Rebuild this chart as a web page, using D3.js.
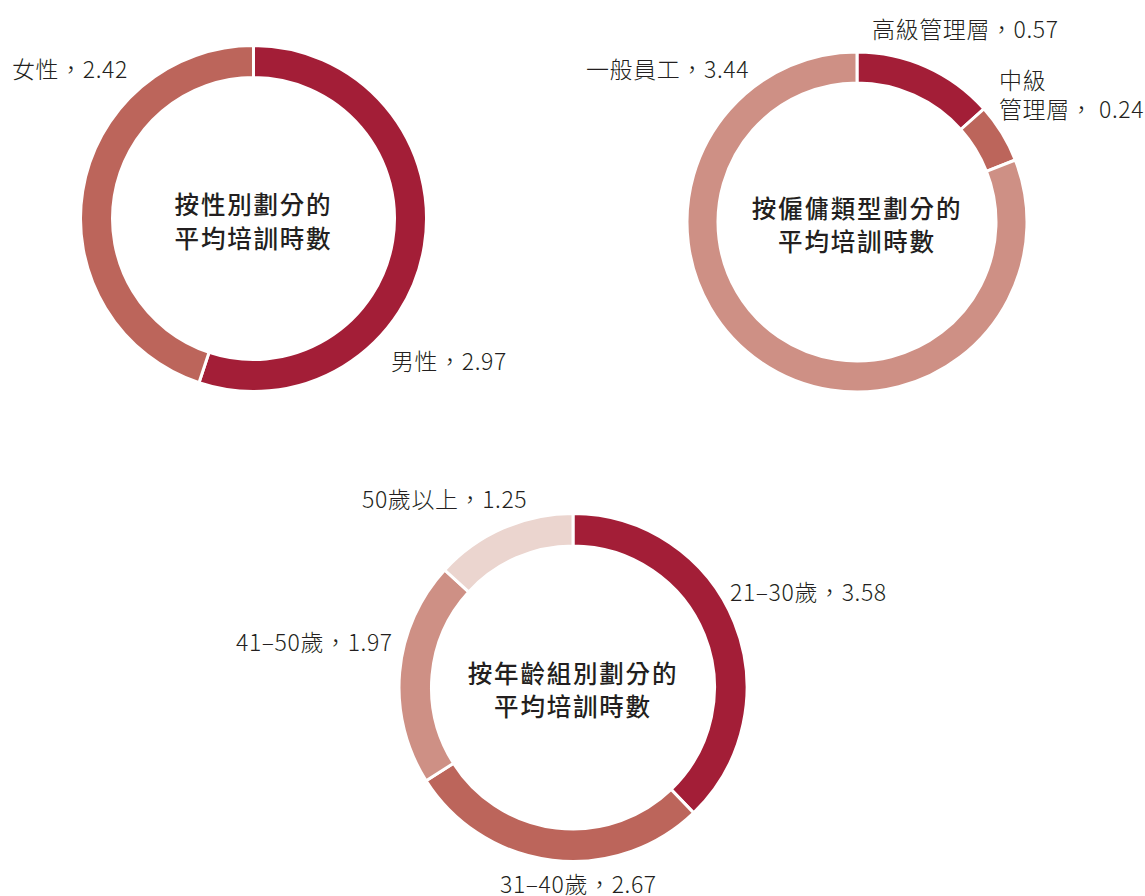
<!DOCTYPE html>
<html>
<head>
<meta charset="utf-8">
<script src="https://cdn.jsdelivr.net/npm/d3@7"></script>
<style>
  html, body { margin: 0; padding: 0; background: #ffffff; }
  svg { display: block; }
</style>
</head>
<body>
<svg id="chart" width="1145" height="896"></svg>
<script>
// ---------- data ----------
const genderCategories = ["男性", "女性"];
const genderValues = [2.97, 2.42];

const employmentCategories = ["高級管理層", "中級管理層", "一般員工"];
const employmentValues = [0.57, 0.24, 3.44];

const ageCategories = ["21–30歲", "31–40歲", "41–50歲", "50歲以上"];
const ageValues = [3.58, 2.67, 1.97, 1.25];

const titleGender = ["按性別劃分的", "平均培訓時數"];
const titleEmployment = ["按僱傭類型劃分的", "平均培訓時數"];
const titleAge = ["按年齡組別劃分的", "平均培訓時數"];

// ---------- layout / style ----------
const colorsDark = "#A31E37", colorsMid = "#BC655B", colorsLight = "#CE9085", colorsPale = "#EBD5CF";
const textColor = "#231F20";
const fontLabel = "'Noto Sans CJK TC', 'Noto Sans', sans-serif";

const charts = [
  {
    cats: genderCategories, vals: genderValues, title: titleGender,
    cx: 253.5, cy: 218.5, r0: 141, r1: 173,
    colors: [colorsDark, colorsMid],
    labels: [
      { lines: [l => l.cat + "，" + l.val.toFixed(2)], dx: 137.5, dy: 141.5 },
      { lines: [l => l.cat + "，" + l.val.toFixed(2)], dx: -241.5, dy: -150.5 }
    ],
    titleDy: [-15.5, 18.5]
  },
  {
    cats: employmentCategories, vals: employmentValues, title: titleEmployment,
    cx: 857, cy: 222, r0: 139, r1: 170,
    colors: [colorsDark, colorsMid, colorsLight],
    labels: [
      { lines: [l => l.cat + "，" + l.val.toFixed(2)], dx: 15, dy: -194 },
      { lines: [l => l.cat.slice(0, 2), l => l.cat.slice(2) + "， " + l.val.toFixed(2)], dx: 142, dy: -143, lh: 29 },
      { lines: [l => l.cat + "，" + l.val.toFixed(2)], dx: -271, dy: -154 }
    ],
    titleDy: [-14.5, 18.5]
  },
  {
    cats: ageCategories, vals: ageValues, title: titleAge,
    cx: 573, cy: 687.5, r0: 141.5, r1: 174,
    colors: [colorsDark, colorsMid, colorsLight, colorsPale],
    labels: [
      { lines: [l => l.cat + "，" + l.val.toFixed(2)], dx: 157, dy: -97 },
      { lines: [l => l.cat + "，" + l.val.toFixed(2)], dx: -73, dy: 195.5 },
      { lines: [l => l.cat + "，" + l.val.toFixed(2)], dx: -337, dy: -47 },
      { lines: [l => l.cat + "，" + l.val.toFixed(2)], dx: -211, dy: -190 }
    ],
    titleDy: [-15.5, 18]
  }
];

const svg = d3.select("#chart");
const pie = d3.pie().sort(null).value(d => d);

charts.forEach(c => {
  const g = svg.append("g").attr("transform", `translate(${c.cx},${c.cy})`);
  const arc = d3.arc().innerRadius(c.r0).outerRadius(c.r1);
  const arcs = pie(c.vals);

  g.selectAll("path.slice")
    .data(arcs)
    .join("path")
    .attr("class", "slice")
    .attr("d", arc)
    .attr("fill", (d, i) => c.colors[i])
    .attr("stroke", "#ffffff")
    .attr("stroke-width", 3)
    .attr("stroke-linejoin", "miter");

  // center title
  g.selectAll("text.title")
    .data(c.title)
    .join("text")
    .attr("class", "title")
    .attr("x", 0)
    .attr("y", (d, i) => c.titleDy[i])
    .attr("text-anchor", "middle")
    .attr("dominant-baseline", "central")
    .attr("font-family", fontLabel)
    .attr("font-weight", 500)
    .attr("font-size", 24.5)
    .attr("letter-spacing", 1.8)
    .attr("fill", textColor)
    .text(d => d);

  // labels
  c.labels.forEach((lab, i) => {
    const info = { cat: c.cats[i], val: c.vals[i] };
    lab.lines.forEach((fn, j) => {
      g.append("text")
        .attr("x", lab.dx)
        .attr("y", lab.dy + j * (lab.lh || 0))
        .attr("text-anchor", "start")
        .attr("dominant-baseline", "central")
        .attr("font-family", fontLabel)
        .attr("font-weight", 300)
        .attr("font-size", 23)
        .attr("letter-spacing", 0.6)
        .attr("fill", textColor)
        .text(fn(info));
    });
  });
});
</script>
</body>
</html>
